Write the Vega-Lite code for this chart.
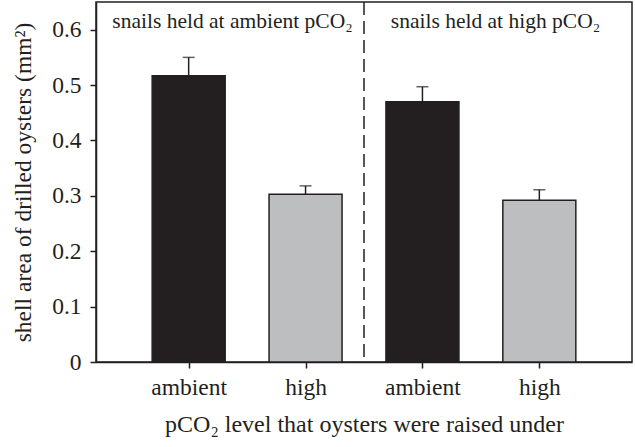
{
  "$schema": "https://vega.github.io/schema/vega-lite/v6.json",
  "width": 536,
  "height": 360,
  "autosize": "none",
  "padding": {"left": 96, "top": 2, "right": 3, "bottom": 85},
  "background": "white",
  "config": {
    "font": "'Liberation Serif', 'Times New Roman', serif",
    "view": {"stroke": "#231f20", "strokeWidth": 1.5},
    "text": {"font": "'Liberation Serif', 'Times New Roman', serif"},
    "axis": {
      "labelFont": "'Liberation Serif', 'Times New Roman', serif",
      "titleFont": "'Liberation Serif', 'Times New Roman', serif",
      "labelColor": "#231f20",
      "titleColor": "#231f20",
      "domainColor": "#231f20",
      "tickColor": "#231f20",
      "grid": false,
      "labelFontSize": 23.5,
      "titleFontSize": 24,
      "titleFontWeight": "normal",
      "domainWidth": 1.5,
      "tickWidth": 1.5,
      "tickSize": 6
    }
  },
  "datasets": {
    "bars": [
      {"pos": 1, "snails": "ambient", "oysters": "ambient", "mean": 0.517, "upper": 0.550},
      {"pos": 2, "snails": "ambient", "oysters": "high", "mean": 0.303, "upper": 0.318},
      {"pos": 3, "snails": "high", "oysters": "ambient", "mean": 0.470, "upper": 0.497},
      {"pos": 4, "snails": "high", "oysters": "high", "mean": 0.292, "upper": 0.311}
    ],
    "panels": [
      {"pos": 1.375, "label": "snails held at ambient pCO₂"},
      {"pos": 3.625, "label": "snails held at high pCO₂"}
    ],
    "divider": [{"pos": 2.5}]
  },
  "encoding": {
    "x": {
      "field": "pos",
      "type": "quantitative",
      "scale": {"domain": [0.25, 4.75], "nice": false, "zero": false},
      "title": "pCO₂ level that oysters were raised under",
      "axis": {
        "values": [1, 2, 3, 4],
        "labelExpr": "datum.value % 2 == 1 ? 'ambient' : 'high'",
        "labelPadding": 7,
        "titlePadding": 14
      }
    }
  },
  "layer": [
    {
      "data": {"name": "bars"},
      "mark": {"type": "bar", "size": 73, "stroke": "#231f20", "strokeWidth": 1.5},
      "encoding": {
        "y": {
          "field": "mean",
          "type": "quantitative",
          "scale": {"domain": [0, 0.65], "nice": false},
          "title": "shell area of drilled oysters (mm²)",
          "axis": {
            "values": [0, 0.1, 0.2, 0.3, 0.4, 0.5, 0.6],
            "format": ".1~f",
            "labelPadding": 9,
            "titlePadding": 16,
            "titleFontSize": 23.5
          }
        },
        "color": {
          "field": "oysters",
          "type": "nominal",
          "scale": {"domain": ["ambient", "high"], "range": ["#231f20", "#bdbec0"]},
          "legend": null
        }
      }
    },
    {
      "data": {"name": "bars"},
      "mark": {"type": "rule", "color": "#231f20", "strokeWidth": 1.5},
      "encoding": {
        "y": {"field": "mean", "type": "quantitative", "title": "shell area of drilled oysters (mm²)"},
        "y2": {"field": "upper"}
      }
    },
    {
      "data": {"name": "bars"},
      "mark": {"type": "tick", "orient": "horizontal", "size": 12, "thickness": 1.5, "color": "#231f20"},
      "encoding": {
        "y": {"field": "upper", "type": "quantitative", "title": "shell area of drilled oysters (mm²)"}
      }
    },
    {
      "data": {"name": "divider"},
      "mark": {"type": "rule", "color": "#231f20", "strokeWidth": 1.5, "strokeDash": [13, 6]},
      "encoding": {}
    },
    {
      "data": {"name": "panels"},
      "mark": {"type": "text", "fontSize": 21.5, "color": "#231f20", "baseline": "middle", "align": "center"},
      "encoding": {
        "y": {"datum": 0.614, "type": "quantitative", "title": "shell area of drilled oysters (mm²)"},
        "text": {"field": "label"}
      }
    }
  ]
}
